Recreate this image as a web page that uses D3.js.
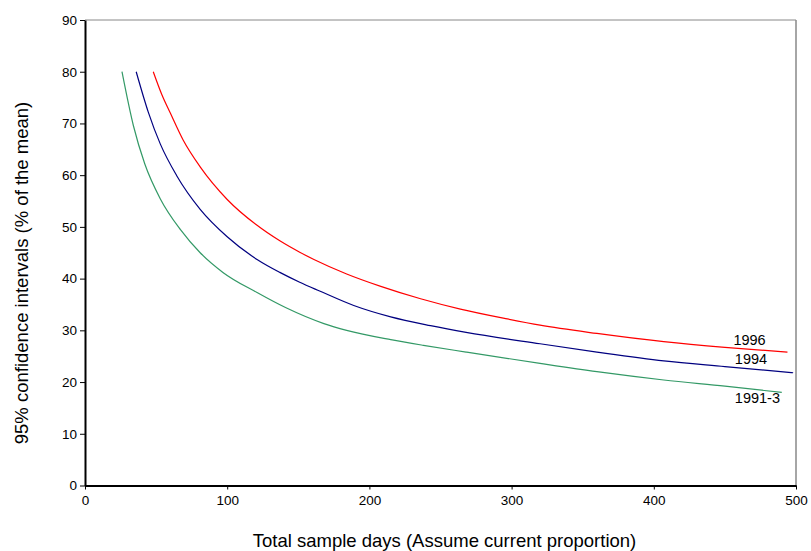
<!DOCTYPE html>
<html>
<head>
<meta charset="utf-8">
<script src="https://cdn.jsdelivr.net/npm/d3@7"></script>
<style>
  body { margin: 0; background: #fff; }
  text { font-family: "Liberation Sans", Arial, sans-serif; fill: #000; }
</style>
</head>
<body>
<svg id="chart" width="811" height="551"></svg>
<script>
// values: [sample days, CI % of mean]
var series1996 = [[48,80],[54,75.6],[60,72.0],[69,66.8],[81,61.6],[100,55.3],[121,50.3],[137,47.3],[151,45.1],
  [161,43.7],[184,40.9],[208,38.5],[236,36.1],[264,34.1],[297,32.2],[320,31.0],[360,29.4],[407,27.8],[450,26.7],[494,25.8]];
var series1994 = [[36,80],[44.5,72.2],[53,66.0],[64.5,59.9],[81,53.4],[100,48.1],[121,43.7],[137,41.2],
  [151,39.3],[165,37.6],[189,34.8],[215,32.6],[243,30.9],[268,29.6],[320,27.4],[360,25.8],[407,24.1],[450,23.0],[498,21.8]];
var series1991_3 = [[26,80],[34,69.6],[42,62.2],[53,55.4],[67,49.5],[81,45.0],[97,41.2],[121,37.3],
  [141,34.4],[168,31.3],[184,30.0],[215,28.2],[238,27.1],[268,25.8],[320,23.6],[360,22.0],[407,20.4],[450,19.2],[490,18.0]];
var seriesNames = ["1996", "1994", "1991-3"];
var xTicks = [0, 100, 200, 300, 400, 500];
var yTicks = [0, 10, 20, 30, 40, 50, 60, 70, 80, 90];

var svg = d3.select("#chart"),
    MARGINS = {top: 20, right: 15, bottom: 65.5, left: 85},
    WIDTH = 811, HEIGHT = 551;

var xScale = d3.scaleLinear().domain([0, 500]).range([MARGINS.left, WIDTH - MARGINS.right]),
    yScale = d3.scaleLinear().domain([0, 90]).range([HEIGHT - MARGINS.bottom, MARGINS.top]);

// grey frame on top and right
svg.append("line")
    .attr("x1", xScale(0)).attr("x2", xScale(500))
    .attr("y1", yScale(90)).attr("y2", yScale(90))
    .attr("stroke", "#888").attr("stroke-width", 1);
svg.append("line")
    .attr("x1", xScale(500)).attr("x2", xScale(500))
    .attr("y1", yScale(90)).attr("y2", yScale(0))
    .attr("stroke", "#888").attr("stroke-width", 1.5);

var xAxis = d3.axisBottom(xScale).tickValues(xTicks).tickSize(4).tickSizeOuter(0).tickPadding(6),
    yAxis = d3.axisLeft(yScale).tickValues(yTicks).tickSize(5).tickSizeOuter(0).tickPadding(3);

var gx = svg.append("g")
    .attr("transform", "translate(0," + yScale(0) + ")")
    .call(xAxis);
var gy = svg.append("g")
    .attr("transform", "translate(" + xScale(0) + ",0)")
    .call(yAxis);

[gx, gy].forEach(function (g) {
  g.select(".domain").attr("stroke", "#000").attr("stroke-width", 2);
  g.selectAll(".tick line").attr("stroke", "#000").attr("stroke-width", 1);
  g.selectAll(".tick text").style("font-size", "13.5px").attr("fill", "#000");
});

var lineGen = d3.line()
    .x(function (d) { return xScale(d[0]); })
    .y(function (d) { return yScale(d[1]); })
    .curve(d3.curveMonotoneX);

var lines = [
  {data: series1996, color: "#ff0000"},
  {data: series1994, color: "#000080"},
  {data: series1991_3, color: "#339966"}
];

lines.forEach(function (l) {
  svg.append("path")
      .attr("d", lineGen(l.data))
      .attr("stroke", l.color)
      .attr("stroke-width", 1.2)
      .attr("fill", "none");
});

// series labels, placed in data units next to the line ends
var labelAt = [[456, 27.2], [457, 23.4], [457, 16.0]];
seriesNames.forEach(function (name, i) {
  svg.append("text")
      .attr("x", xScale(labelAt[i][0]))
      .attr("y", yScale(labelAt[i][1]))
      .style("font-size", "14.5px")
      .text(name);
});

svg.append("text")
    .attr("x", (xScale(0) + xScale(500)) / 2 + 4)
    .attr("y", 547)
    .attr("text-anchor", "middle")
    .style("font-size", "18.5px")
    .text("Total sample days (Assume current proportion)");

svg.append("text")
    .attr("transform", "translate(28," + 273 + ") rotate(-90)")
    .attr("text-anchor", "middle")
    .style("font-size", "18.5px")
    .text("95% confidence intervals (% of the mean)");
</script>
</body>
</html>
